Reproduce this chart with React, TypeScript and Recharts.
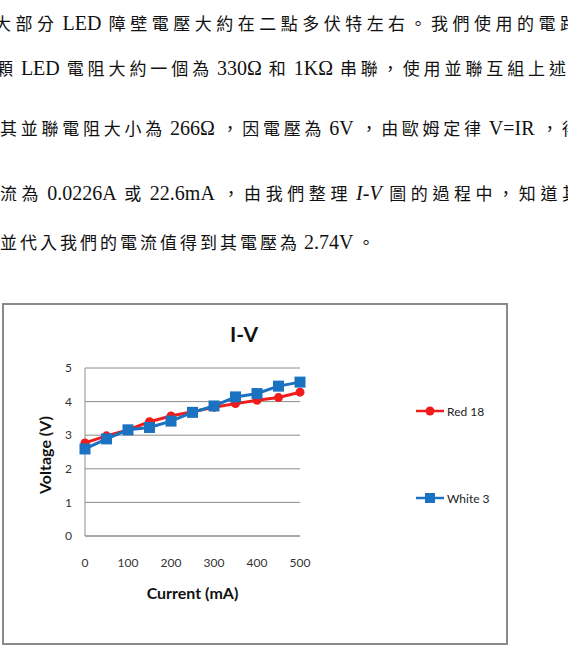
import React from 'react';
import {
  LineChart, Line, XAxis, YAxis, CartesianGrid, Legend,
} from 'recharts';

// current in mA, voltage in V
const currents = [0, 50, 100, 150, 200, 250, 300, 350, 400, 450, 500];
const red18 = [2.77, 2.98, 3.16, 3.4, 3.57, 3.7, 3.83, 3.94, 4.04, 4.12, 4.28];
const white3 = [2.59, 2.89, 3.16, 3.23, 3.42, 3.68, 3.87, 4.14, 4.24, 4.46, 4.58];
const xTicks = [0, 100, 200, 300, 400, 500];
const yTicks = [0, 1, 2, 3, 4, 5];

const textLines = [
  '大部分 LED 障壁電壓大約在二點多伏特左右。我們使用的電路',
  '顆 LED 電阻大約一個為 330Ω 和 1KΩ 串聯，使用並聯互組上述',
  '其並聯電阻大小為 266Ω，因電壓為 6V，由歐姆定律 V=IR，得',
  '流為 0.0226A 或 22.6mA，由我們整理 I-V 圖的過程中，知道其',
  '並代入我們的電流值得到其電壓為 2.74V。',
];
const lineTops = [11, 56, 116, 181, 230];
const lineLefts = [-6, -4, 0, 0, 0];
// justified lines run past the right edge of the scan; the last line is not justified
const lineWidths = [584, 571, 580, 580, 0];

const RED = '#f01c1c';
const BLUE = '#1b72c0';

const data = currents.map((c, i) => ({ current: c, red: red18[i], white: white3[i] }));

const FONT = 'Lato, "Open Sans", sans-serif';
const LATIN = /^[A-Za-z0-9.=Ω\- ]+$/;

function renderLine(line: string, justified: boolean) {
  const parts = line.split(/([A-Za-z0-9.=Ω\- ]+)/).filter((p) => p.length > 0);
  return parts.map((p, i) => {
    if (LATIN.test(p)) {
      const trimmed = p.trim();
      return (
        <span key={i} style={{
          fontFamily: '"Liberation Serif", serif', fontSize: 20, letterSpacing: 0,
          fontStyle: trimmed === 'I-V' ? 'italic' : 'normal', padding: '0 4px',
        }}>
          {trimmed}
        </span>
      );
    }
    return (
      <span key={i} style={{ fontFamily: '"Noto Sans CJK TC", sans-serif', fontSize: 17, letterSpacing: justified ? 1 : 3 }}>
        {p}
      </span>
    );
  });
}

function Square(props: any) {
  const { cx, cy, index } = props;
  return <rect key={`sq-${index}`} x={cx - 5.5} y={cy - 5.5} width={11} height={11} fill={BLUE} />;
}

function LegendBox({ payload }: any) {
  return (
    <div style={{ fontFamily: FONT, fontSize: 12, color: '#222' }}>
      {(payload || []).map((p: any, i: number) => (
        <div key={i} style={{ display: 'flex', alignItems: 'center', height: 20, marginBottom: i === 0 ? 67 : 0 }}>
          <svg width={28} height={12} style={{ marginRight: 3 }}>
            <line x1={0} y1={6} x2={28} y2={6} stroke={p.color} strokeWidth={2.5} />
            {i === 0
              ? <circle cx={14} cy={6} r={4.5} fill={p.color} />
              : <rect x={9} y={1} width={10} height={10} fill={p.color} />}
          </svg>
          <span>{p.value}</span>
        </div>
      ))}
    </div>
  );
}

export default function App() {
  return (
    <div lang="zh-Hant" style={{ position: 'absolute', left: 0, top: 0, width: 568, height: 657, background: '#fff', overflow: 'hidden' }}>
      {textLines.map((line, i) => {
        const justified = lineWidths[i] > 0;
        return (
          <div key={i} style={{
            position: 'absolute', whiteSpace: 'nowrap', top: lineTops[i], left: lineLefts[i],
            width: justified ? lineWidths[i] : undefined,
            textAlign: justified ? 'justify' : 'left',
            textAlignLast: justified ? 'justify' : 'auto',
            color: '#111', lineHeight: '24px',
          }}>
            {renderLine(line, justified)}
          </div>
        );
      })}

      <div style={{
        position: 'absolute', left: 2, top: 303, width: 502, height: 338,
        border: '2px solid #8a8a8a', background: '#fff',
      }}>
        <div style={{
          position: 'absolute', left: 0, width: 480, top: 16, textAlign: 'center',
          fontFamily: FONT, fontWeight: 700, fontSize: 21, color: '#111',
        }}>
          I-V
        </div>
        <LineChart
          width={502}
          height={338}
          data={data}
          margin={{ top: 63, right: 116, bottom: 77, left: 51 }}
          style={{ fontFamily: FONT }}
        >
          <CartesianGrid vertical={false} stroke="#8c8c8c" strokeWidth={1} />
          <XAxis
            dataKey="current"
            type="number"
            domain={[0, 500]}
            ticks={xTicks}
            height={30}
            tickLine={false}
            tickSize={6}
            tickMargin={16}
            stroke="#8c8c8c"
            tick={{ fill: '#333', fontSize: 12 }}
            label={{ value: 'Current  (mA)', position: 'insideBottom', offset: -33, fill: '#111', fontSize: 16, fontWeight: 700 }}
          />
          <YAxis
            type="number"
            domain={[0, 5]}
            ticks={yTicks}
            width={30}
            tickLine={false}
            tickSize={6}
            tickMargin={7}
            stroke="#8c8c8c"
            tick={{ fill: '#333', fontSize: 12 }}
            label={{ value: 'Voltage  (V)', angle: -90, position: 'insideLeft', dx: -15, dy: 42, fill: '#111', fontSize: 16, fontWeight: 700 }}
          />
          <Legend
            layout="vertical"
            verticalAlign="top"
            align="right"
            content={<LegendBox />}
            wrapperStyle={{ position: 'absolute', left: 412, top: 96, width: 90 }}
          />
          <Line
            name="Red 18"
            dataKey="red"
            stroke={RED}
            strokeWidth={3}
            dot={{ r: 4.5, fill: RED, stroke: RED, strokeWidth: 0 }}
            isAnimationActive={false}
          />
          <Line
            name="White 3"
            dataKey="white"
            stroke={BLUE}
            strokeWidth={3}
            dot={<Square />}
            isAnimationActive={false}
          />
        </LineChart>
      </div>
    </div>
  );
}
